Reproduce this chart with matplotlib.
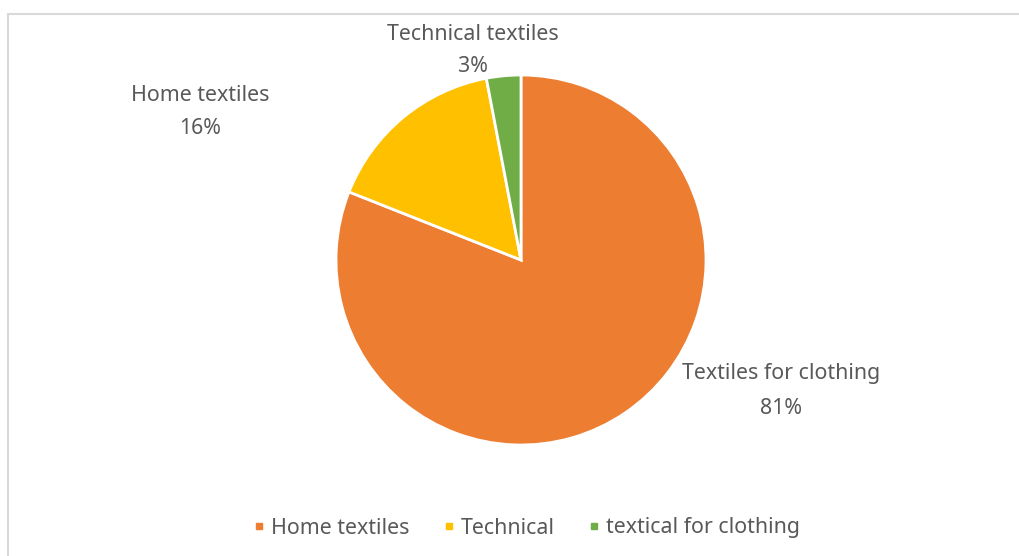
import matplotlib
matplotlib.use("Agg")
import matplotlib.pyplot as plt
from matplotlib.lines import Line2D
from matplotlib.patches import Rectangle

plt.rcParams['font.family'] = ['Noto Sans', 'DejaVu Sans']

slice_labels = ["Textiles for clothing", "Home textiles", "Technical textiles"]
slice_values = [81, 16, 3]
slice_colors = ["#ED7D31", "#FFC000", "#70AD47"]
legend_labels = ["Home textiles", "Technical", "textical for clothing"]

W, H = 1020, 556
fig = plt.figure(figsize=(W / 100, H / 100), dpi=100)
ax = fig.add_axes([0, 0, 1, 1])
ax.set_xlim(0, W)
ax.set_ylim(0, H)
ax.set_aspect('equal')
ax.axis('off')

# chart border
ax.add_patch(Rectangle((8, -10), W, H - 14 + 10, fill=False, edgecolor='#D9D9D9', linewidth=1.5))

cx, cy, r = 521, H - 260, 185
ax.pie(slice_values, colors=slice_colors, startangle=90, counterclock=False,
       center=(cx, cy), radius=r, frame=True,
       wedgeprops=dict(edgecolor='white', linewidth=2))
ax.set_xlim(0, W)
ax.set_ylim(0, H)
ax.axis('off')

fs = 15.4
label_pos = [(781, 374, 408), (200, 95, 128), (473, 34, 66)]
txt_color = '#595959'
for lab, val, (x, y1, y2) in zip(slice_labels, slice_values, label_pos):
    ax.text(x, H - y1, lab, ha='center', va='center', fontsize=fs, color=txt_color)
    ax.text(x, H - y2, f"{val}%", ha='center', va='center', fontsize=fs, color=txt_color)

handles = [Line2D([], [], marker='s', linestyle='none', markersize=5,
                  markerfacecolor=c, markeredgecolor=c) for c in slice_colors]
leg = ax.legend(handles, legend_labels, loc='center', bbox_to_anchor=(527 / W, (H - 528) / H),
                bbox_transform=fig.transFigure, ncol=3, frameon=False, fontsize=fs,
                handlelength=0.5, handletextpad=0.3, columnspacing=1.6, labelcolor=txt_color)

fig.savefig("out.png", dpi=100)
